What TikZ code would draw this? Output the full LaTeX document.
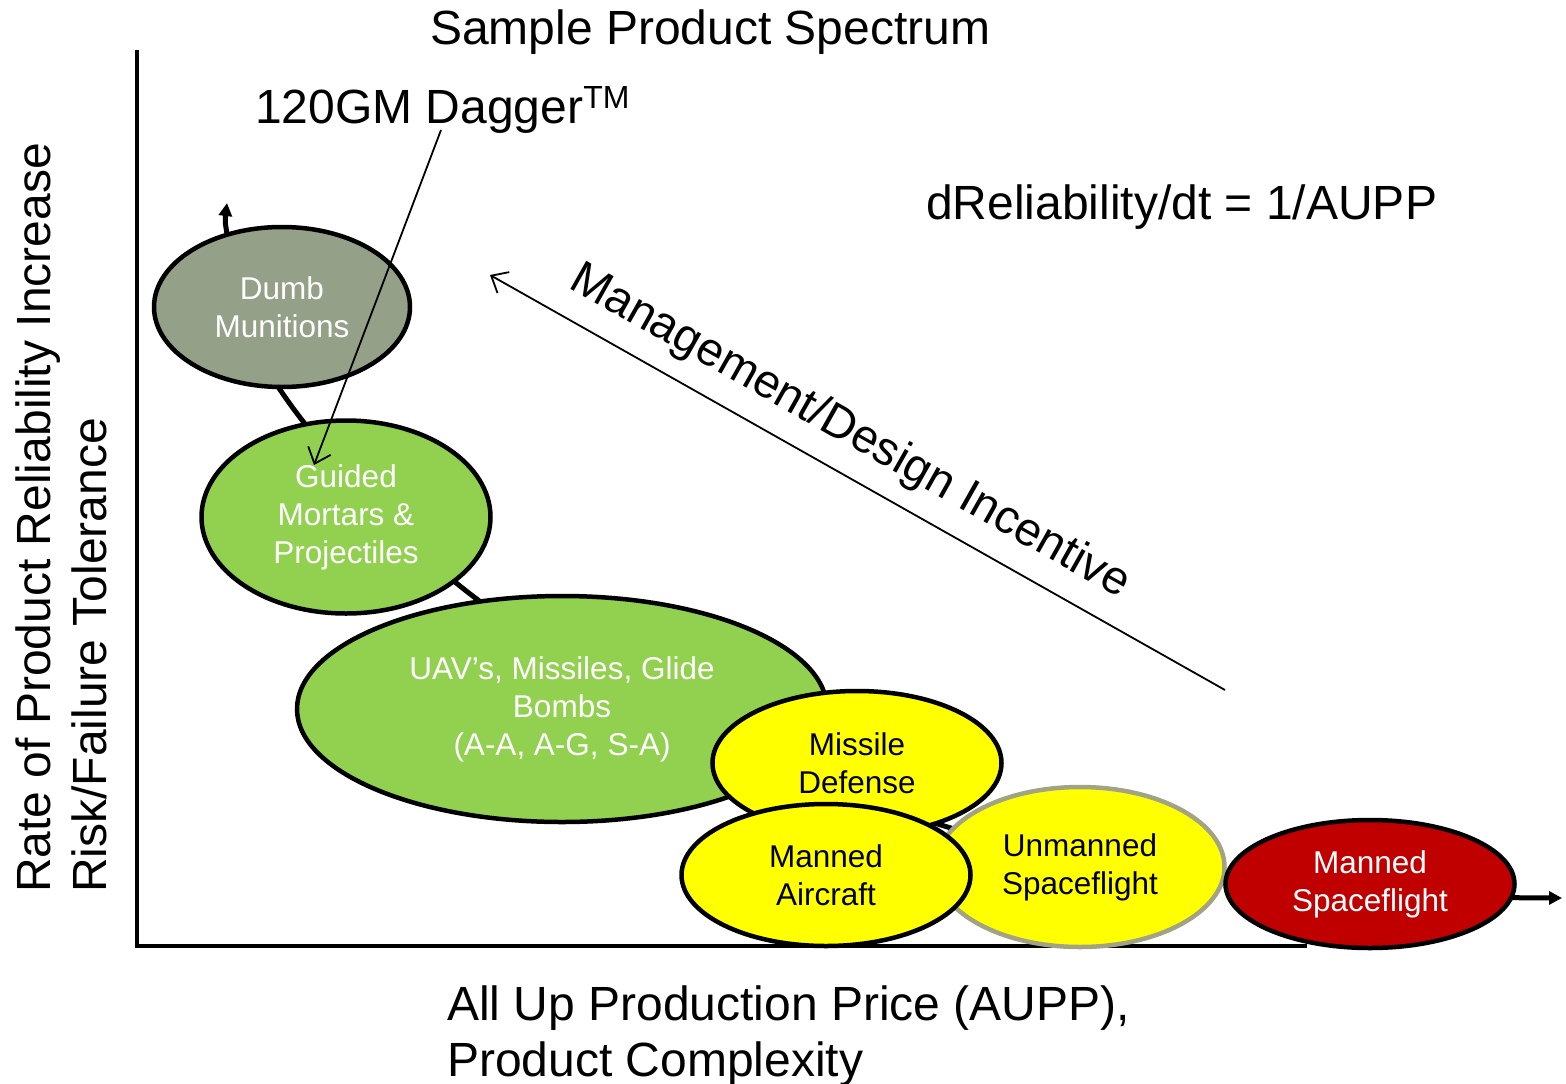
\documentclass[tikz,border=0pt]{standalone}
\usepackage{fontspec}
\setmainfont{Liberation Sans}
\usetikzlibrary{shapes.geometric,arrows.meta}

\definecolor{dumbfill}{RGB}{148,160,136}
\definecolor{leafgreen}{RGB}{146,208,80}
\definecolor{brightyellow}{RGB}{255,255,0}
\definecolor{deepred}{RGB}{192,0,0}
\definecolor{khakiline}{RGB}{162,162,132}

\tikzset{
  bigtext/.style={font=\fontsize{48}{58}\selectfont, inner sep=0pt},
  blob/.style={ellipse, draw=black, line width=4.5pt, inner sep=0pt,
    align=center, font=\fontsize{31.5}{38}\selectfont},
  axisline/.style={line width=4pt, line cap=rect},
  trend/.style={line width=5pt, {Triangle[length=13pt,width=13pt]}-{Triangle[length=13pt,width=13pt]}},
  pointer/.style={line width=1.8pt, -{Straight Barb[length=14pt,width=24pt]}},
}

\begin{document}
\begin{tikzpicture}[x=1pt,y=-1pt]
\useasboundingbox (0,0) rectangle (1566,1084);

% end points of the trend curve
\coordinate (trendtop) at (227,203);
\coordinate (trendend) at (1562,898);

% trend curve, running behind the product ellipses
\draw[trend] plot[smooth, tension=0.55] coordinates {
  (227,203) (228,240) (248,330) (290,404) (370,500) (465,590)
  (600,680) (800,775) (1000,842) (1200,880) (1400,895) (1562,898)};

% axes
\draw[axisline] (137,52) -- (137,946) -- (1305,946);

% product ellipses
\node[blob, fill=dumbfill, text=white, minimum width=256pt, minimum height=160pt]
  (dumb) at (282,307) {Dumb\\Munitions};
\node[blob, fill=leafgreen, text=white, minimum width=530pt, minimum height=226pt]
  (uav) at (562,709) {UAV’s, Missiles, Glide\\Bombs\\(A-A, A-G, S-A)};
\node[blob, fill=leafgreen, text=white, minimum width=289pt, minimum height=193pt]
  (guided) at (346,517) {Guided\\Mortars \&\\Projectiles};
\node[blob, draw=khakiline, fill=brightyellow, text=black, minimum width=289pt, minimum height=160pt]
  (unmanned) at (1080,867) {Unmanned\\Spaceflight};
\node[blob, fill=brightyellow, text=black, minimum width=289pt, minimum height=144pt]
  (missile) at (857,763) {Missile\\Defense};
\node[blob, fill=brightyellow, text=black, minimum width=289pt, minimum height=142pt]
  (aircraft) at (826,875) {Manned\\Aircraft};
\node[blob, fill=deepred, text=white, minimum width=289pt, minimum height=128pt]
  (spaceflight) at (1370,884) {Manned\\Spaceflight};

% titles and axis labels
\node[bigtext, anchor=base west] (title) at (430,44) {Sample Product Spectrum};
\node[bigtext, anchor=base west] (dagger) at (255,123)
  {120GM Dagger\raisebox{15pt}{\fontsize{32}{32}\selectfont TM}};
\node[bigtext, anchor=base west] (rate) at (926,219)
  {dReliability/dt = 1/AUPP};
\node[bigtext, anchor=base west, align=left, font=\fontsize{48}{56}\selectfont] (xlabel) at (447,1076)
  {All Up Production Price (AUPP),\\Product Complexity};
\node[bigtext, anchor=base west, rotate=90] (ylabelA) at (50,893)
  {Rate of Product Reliability Increase};
\node[bigtext, anchor=base west, rotate=90] (ylabelB) at (106,893)
  {Risk/Failure Tolerance};
\node[bigtext, anchor=base west, rotate=-29.4, font=\fontsize{47}{56}\selectfont] (incentive) at (567,287)
  {Management/Design Incentive};

% pointers
\coordinate (daggerfoot) at (441,130);
\coordinate (daggertip) at (314,465);
\draw[pointer] (daggerfoot) -- (daggertip);
\coordinate (incentivefoot) at (1225,690);
\coordinate (incentivetip) at (490,275);
\draw[pointer] (incentivefoot) -- (incentivetip);
\end{tikzpicture}
\end{document}
